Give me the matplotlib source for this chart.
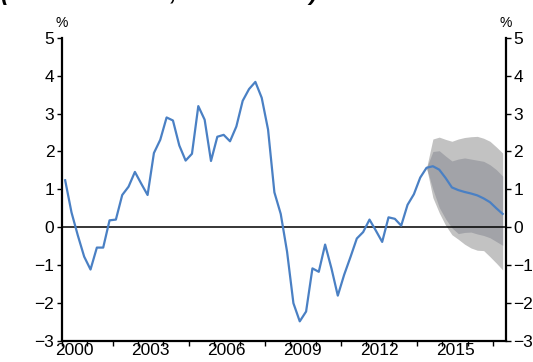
import matplotlib
matplotlib.use("Agg")
import matplotlib.pyplot as plt
import numpy as np

plt.rcParams["font.family"] = ["Liberation Sans", "DejaVu Sans"]

# quarterly series, 2000Q1 .. 2017Q2 (points at mid-quarter)
start_year = 2000
actual = [
    1.24, 0.39, -0.22, -0.78, -1.12, -0.54, -0.54, 0.18, 0.20, 0.85,
    1.07, 1.46, 1.15, 0.85, 1.96, 2.31, 2.90, 2.82, 2.16, 1.76,
    1.94, 3.20, 2.84, 1.75, 2.39, 2.44, 2.27, 2.66, 3.34, 3.65,
    3.84, 3.42, 2.58, 0.92, 0.35, -0.65, -2.01, -2.49, -2.23, -1.09,
    -1.18, -0.46, -1.09, -1.81, -1.26, -0.79, -0.30, -0.13, 0.20, -0.09,
    -0.39, 0.26, 0.22, 0.04, 0.59, 0.87, 1.31, 1.57,
]
# central projection from 2014Q2 onwards
central = [1.57, 1.61, 1.52, 1.30, 1.05, 0.98, 0.93, 0.89, 0.84, 0.76, 0.66, 0.50, 0.35]
outer_hi = [1.57, 2.33, 2.38, 2.32, 2.27, 2.33, 2.37, 2.39, 2.40, 2.35, 2.27, 2.12, 1.96]
inner_hi = [1.57, 2.00, 2.02, 1.88, 1.75, 1.80, 1.83, 1.80, 1.77, 1.74, 1.65, 1.52, 1.35]
inner_lo = [1.57, 1.00, 0.52, 0.22, -0.02, -0.17, -0.14, -0.13, -0.18, -0.22, -0.28, -0.38, -0.48]
outer_lo = [1.57, 0.78, 0.38, 0.05, -0.20, -0.32, -0.45, -0.55, -0.61, -0.62, -0.78, -0.95, -1.13]

year_ticks = list(range(2000, 2018))
year_labels = [2000, 2003, 2006, 2009, 2012, 2015]
y_ticks = list(range(-3, 6))

series = actual + central[1:]
x = start_year + 0.125 + 0.25 * np.arange(len(series))
xf = x[len(actual) - 1:]

fig = plt.figure(figsize=(5.33, 3.62), dpi=100)
ax = fig.add_axes([0.1163, 0.059, 0.8327, 0.836])

ax.fill_between(xf, outer_lo, outer_hi, color="#c2c2c2", lw=0, zorder=1)
ax.fill_between(xf, inner_lo, inner_hi, color="#a2a3a8", lw=0, zorder=2)
ax.axhline(0, color="black", lw=1.1, zorder=3)
ax.plot(x, series, color="#4a80c4", lw=1.6, zorder=4)

ax.set_xlim(2000, 2017.5)
ax.set_ylim(-3, 5)

ax.set_xticks(year_ticks)
ax.set_xticklabels([])
ax.set_xticks([y + 0.5 for y in year_labels], minor=True)
ax.set_xticklabels([str(y) for y in year_labels], minor=True, fontsize=12.5)
ax.tick_params(axis="x", which="major", direction="out", length=3.5, width=1)
ax.tick_params(axis="x", which="minor", length=0, pad=2)

ax.set_yticks(y_ticks)
ax.set_yticklabels([f"{v:d}".replace("-", "\u2212") for v in y_ticks], fontsize=12.5)
ax.tick_params(axis="y", direction="out", length=3.5, width=1, pad=2,
               left=True, right=True, labelleft=True, labelright=True)

ax.spines["top"].set_visible(False)
for s in ("left", "right", "bottom"):
    ax.spines[s].set_linewidth(1.6)

ax.text(0.0, 1.025, "%", transform=ax.transAxes, ha="center", va="bottom", fontsize=10)
ax.text(1.0, 1.025, "%", transform=ax.transAxes, ha="center", va="bottom", fontsize=10)

# subtitle sits just above the canvas; only its descenders show
fig.text(0.002, 1.0, "(trimmed mean, annual rate)", ha="left", va="baseline",
         fontsize=17, fontweight="bold", fontstyle="italic")

fig.savefig("out.png", dpi=100)
